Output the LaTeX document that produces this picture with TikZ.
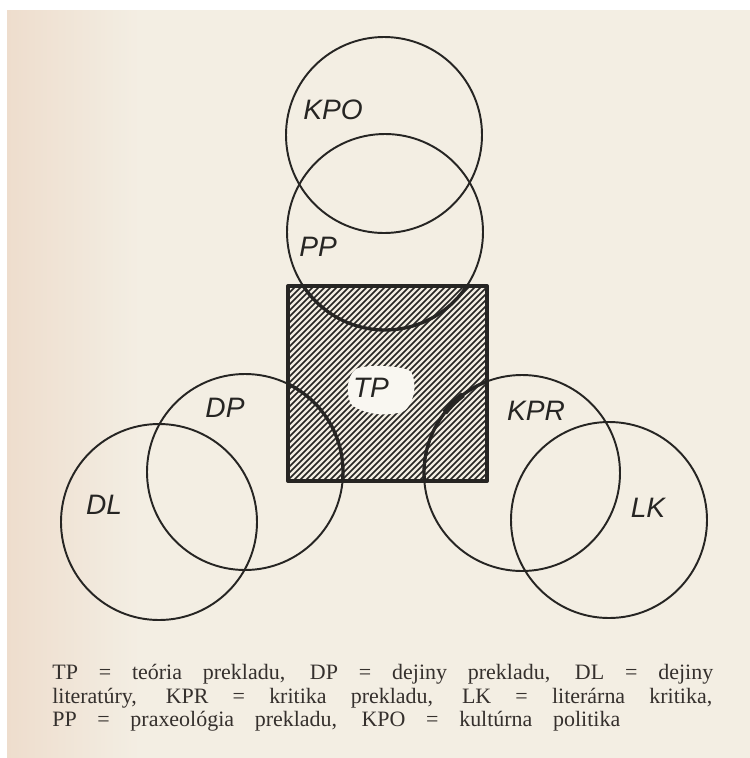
\documentclass[tikz,border=0pt]{standalone}
\usepackage{fontspec}
\setmainfont{Liberation Serif}
\newfontfamily\lettering{Liberation Sans}
\usetikzlibrary{calc}

\definecolor{paper}{HTML}{F3EEE3}
\definecolor{paperedge}{HTML}{EEDDCD}
\definecolor{ink}{HTML}{262523}
\definecolor{printink}{HTML}{35302D}

\begin{document}
\begin{tikzpicture}[x=0.02cm, y=-0.02cm,
    ring/.style={draw=ink, line width=1.1pt},
    inring/.style={draw=ink, line width=1.9pt},
    hatch/.style={draw=ink, line width=0.95pt},
    frame/.style={draw=ink, line width=2.3pt, line join=round},
    lbl/.style={font=\lettering\itshape\fontsize{16}{16}\selectfont, text=ink, inner sep=0pt},
    legend/.style={font=\fontsize{12.5}{13}\selectfont, text=printink, anchor=base west, inner sep=0pt}
]
\useasboundingbox (0,0) rectangle (750,758);
\fill[white] (0,0) rectangle (750,758);
\fill[paper] (7,10) rectangle (750,758);
\shade[left color=paperedge, right color=paper] (7,10) rectangle (140,758);

\coordinate (kpo) at (384,135);
\coordinate (pp) at (385,232);
\coordinate (dp) at (245,472);
\coordinate (dl) at (159,522);
\coordinate (kpr) at (522,473);
\coordinate (lk) at (609,520);
\coordinate (sq1) at (288,286);
\coordinate (sq2) at (487,481);

\begin{scope}
  \clip (sq1) rectangle (sq2);
  \foreach \c in {570,576,...,972}
    \draw[hatch] (\c-280,280) -- (\c-500,500);
  \fill[paper!50!white] plot[smooth cycle] coordinates {(348,385) (356,369) (382,366) (410,371) (414,392) (404,411) (376,414) (352,405)};
\end{scope}

\foreach \c in {kpo,pp,dp,dl,kpr,lk}
  \draw[ring] (\c) circle[radius=98];

\begin{scope}
  \clip (sq1) rectangle (sq2);
  \foreach \c in {pp,dp,kpr}
    \draw[inring] (\c) circle[radius=98];
\end{scope}
\draw[ink, line width=3.2pt] (kpr) ++(218:98) arc[start angle=218, end angle=233, radius=98];

\draw[frame] (sq1) rectangle (sq2);

\node[lbl] (kpolbl) at (333,110) {KPO};
\node[lbl] (pplbl) at (318,247) {PP};
\node[lbl] (tplbl) at (371,388) {TP};
\node[lbl] (dplbl) at (225,408) {DP};
\node[lbl] (dllbl) at (104,505) {DL};
\node[lbl] (kprlbl) at (536,411) {KPR};
\node[lbl] (lklbl) at (648,508) {LK};

\node[legend] (line1) at (52,679) {\makebox[13.22cm][s]{TP = teória prekladu, DP = dejiny prekladu, DL = dejiny}};
\node[legend] (line2) at (52,703) {\makebox[13.2cm][s]{literatúry, KPR = kritika prekladu, LK = literárna kritika,}};
\node[legend] (line3) at (52,726) {\makebox[11.36cm][s]{PP = praxeológia prekladu, KPO = kultúrna politika}};
\end{tikzpicture}
\end{document}
